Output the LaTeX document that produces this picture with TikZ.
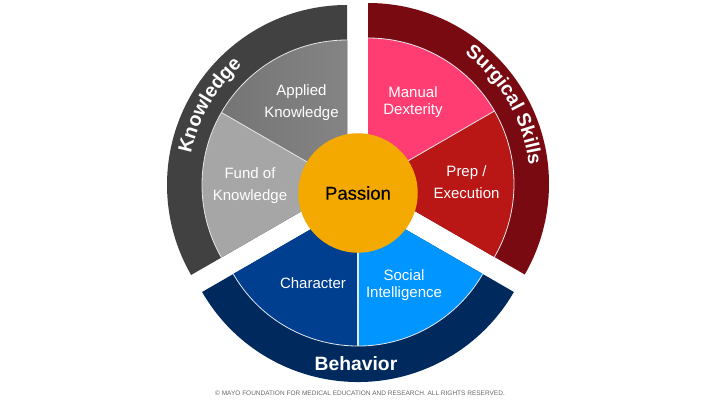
\documentclass[tikz,border=0pt]{standalone}
\usepackage{fontspec}
\setmainfont{Liberation Sans}
\newfontfamily\passfont[FakeBold=0.35]{Liberation Sans}
\usetikzlibrary{decorations.text}
\definecolor{kring}{HTML}{414141}
\definecolor{kapp}{HTML}{7F7F7F}
\definecolor{kfund}{HTML}{A6A6A6}
\definecolor{sring}{HTML}{7A0A12}
\definecolor{sman}{HTML}{FF3D73}
\definecolor{sprep}{HTML}{B91616}
\definecolor{bring}{HTML}{002A5E}
\definecolor{bchar}{HTML}{003E8F}
\definecolor{bsoc}{HTML}{0095FF}
\definecolor{pass}{HTML}{F3A900}
\definecolor{trim}{HTML}{E4E8EC}
\tikzset{
  seg/.style={draw=trim,line width=0.8pt},
  lbl/.style={text=white,align=center,font=\fontsize{15}{22}\selectfont,inner sep=0pt},
  lblt/.style={text=white,align=center,font=\fontsize{15}{17}\selectfont,inner sep=0pt},
  ttl/.style={text=white,font=\fontsize{19.3}{22}\selectfont\bfseries,inner sep=0pt},
}
\begin{document}
\begin{tikzpicture}[x=1pt,y=1pt]
\useasboundingbox (0,0) rectangle (720,405);
% Knowledge
\coordinate (kc) at (347,220);
\fill[kring] (kc) ++(90:180) arc (90:210:180) -- (kc) -- cycle;
\fill[left color=kapp!92!black,right color=kapp!96!white] (kc) -- ++(90:145) arc (90:150:145) -- cycle;
\fill[kfund] (kc) -- ++(150:145) arc (150:210:145) -- cycle;
\draw[seg] (kc) ++(90:145) arc (90:210:145);
\draw[seg] (kc) -- ++(150:145);
% Surgical
\coordinate (sc) at (368,221);
\fill[sring] (sc) ++(90:181) arc (90:-30:181) -- (sc) -- cycle;
\fill[sman] (sc) -- ++(90:146) arc (90:30:146) -- cycle;
\fill[sprep] (sc) -- ++(30:146) arc (30:-30:146) -- cycle;
\draw[seg] (sc) ++(90:146) arc (90:-30:146);
\draw[seg] (sc) -- ++(30:146);
% Behavior
\coordinate (bc) at (358,203);
\fill[bring] (bc) ++(210:180) arc (210:330:180) -- (bc) -- cycle;
\fill[bchar] (bc) -- ++(210:144) arc (210:270:144) -- cycle;
\fill[bsoc] (bc) -- ++(270:144) arc (270:330:144) -- cycle;
\draw[seg] (bc) ++(210:144) arc (210:330:144);
\draw[seg,line width=1.2pt] (bc) -- ++(270:144);
% Centre
\node[circle,fill=pass,minimum size=119.5pt,inner sep=0pt,font=\passfont\fontsize{18.5}{22}\selectfont] (passion) at (358,212) {Passion};
% Labels
\node[lbl] (applied) at (301.5,302.5) {Applied\\Knowledge};
\node[lbl] (fund) at (250,219.5) {Fund of\\Knowledge};
\node[lblt] (manual) at (413,303) {Manual\\Dexterity};
\node[lbl] (prep) at (466.5,222.5) {Prep /\\Execution};
\node[lblt] (character) at (313,122) {Character};
\node[lblt] (social) at (404,120) {Social\\Intelligence};
\node[ttl] (behavior) at (356,41.5) {Behavior};
\node[inner sep=0pt,text=black!60,font=\fontsize{6.5}{8}\selectfont] (copy) at (360,12) {© MAYO FOUNDATION FOR MEDICAL EDUCATION AND RESEARCH. ALL RIGHTS RESERVED.};
% Curved titles
\path[postaction={decorate},decoration={text along path,text align=center,
  text={|\fontsize{19.5}{22}\selectfont\bfseries\color{white}|Knowledge}}]
  (kc) ++(181:159) arc (181:119:159);
\path[postaction={decorate},decoration={text along path,text align=center,
  text={|\fontsize{19.4}{22}\selectfont\bfseries\color{white}|Surgical Skills}}]
  (sc) ++(64:162) arc (64:-4:162);
\end{tikzpicture}
\end{document}
